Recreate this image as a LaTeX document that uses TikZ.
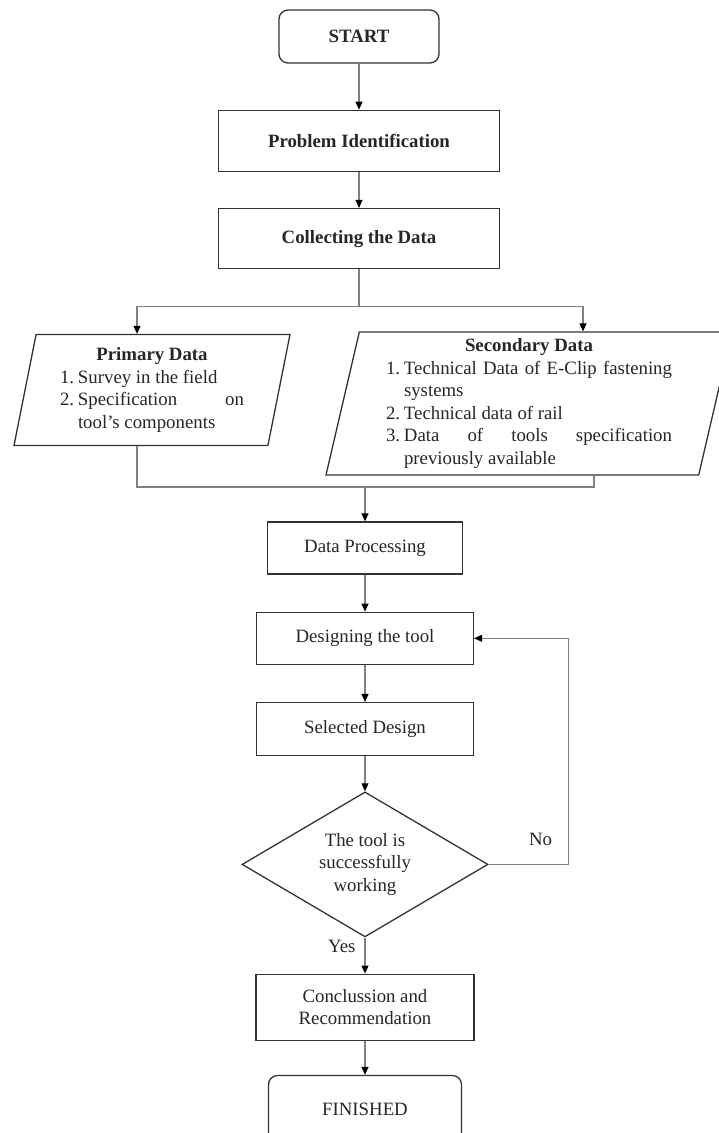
\documentclass[tikz,border=0pt]{standalone}
\usepackage{fontspec}
\setmainfont{Liberation Serif}
\usetikzlibrary{arrows.meta, positioning, calc, shapes.geometric}

\newcommand{\numitem}[2]{\par\noindent\hangindent=18pt\hangafter=1\makebox[18pt][l]{#1}#2\par}

\begin{document}
\begin{tikzpicture}[x=1pt, y=-1pt, node distance=0pt,
  font=\fontsize{18.8pt}{22.5pt}\selectfont, text=black!85,
  box/.style={draw=black!80, line width=1.3pt, fill=white, align=center, inner sep=2pt},
  proc/.style={box, minimum width=217pt, minimum height=52pt},
  term/.style={box, rounded corners=9pt, minimum width=160pt, minimum height=53pt},
  para/.style={box, trapezium, trapezium left angle=76, trapezium right angle=104,
               trapezium stretches body, align=justify,
               execute at begin node={\hyphenpenalty=10000\exhyphenpenalty=10000}},
  dec/.style={box, diamond, aspect=1.7, minimum width=246pt, minimum height=145pt, inner sep=0pt},
  ln/.style={draw=black!50, line width=1.1pt},
  a/.style={ln, -{Triangle[length=8pt, width=7pt, color=black]}},
  lb/.style={inner sep=1pt}]
  \useasboundingbox (0,0) rectangle (719,1133);

  \node[term] (start) at (359,36.5) {\textbf{START}};
  \node[proc, minimum width=281pt, minimum height=61pt, below=46pt of start] (prob)
        {\textbf{Problem Identification}};
  \node[proc, minimum width=281pt, minimum height=60pt, below=36pt of prob] (coll)
        {\textbf{Collecting the Data}};

  \node[para, text width=184pt, minimum width=276pt, minimum height=111pt] (prim) at (152,390)
        {\centerline{\textbf{Primary Data}}%
         \numitem{1.}{Survey in the field}%
         \numitem{2.}{Specification on\linebreak tool's components}};
  \node[para, text width=286pt, minimum width=406pt, minimum height=143pt] (sec) at (529,403.5)
        {\centerline{\textbf{Secondary Data}}%
         \numitem{1.}{Technical Data of E-Clip fastening\linebreak systems}%
         \numitem{2.}{Technical data of rail}%
         \numitem{3.}{Data of tools specification\linebreak previously available}};

  \coordinate (split) at ($(coll.south)+(0,37)$);
  \coordinate (merge) at (365,487);

  \node[proc, minimum width=195pt] (data) at (365,548) {Data Processing};
  \node[proc, below=37pt of data] (design) {Designing the tool};
  \node[proc, minimum height=53pt, below=37pt of design] (sel) {Selected Design};
  \node[dec, below=35pt of sel] (check) {The tool is\\successfully\\working};
  \node[proc, minimum width=218pt, minimum height=66pt, below=36pt of check] (concl)
        {Conclussion and\\Recommendation};
  \node[term, minimum width=193pt, minimum height=68pt, below=34pt of concl] (fin) {FINISHED};

  \draw[a] (start) -- (prob);
  \draw[a] (prob) -- (coll);
  \draw[ln] (coll) -- (split);
  \draw[a] (split) -| ($(prim.north)+(-15,0)$);
  \draw[a] (split) -| ($(sec.north)+(54,0)$);
  \draw[ln] ($(prim.south)+(-15,0)$) |- (merge) -| ($(sec.south)+(65,0)$);
  \draw[a] (merge) -- (data);
  \draw[a] (data) -- (design);
  \draw[a] (design) -- (sel);
  \draw[a] (sel) -- (check);
  \draw[a] (check) -- node[lb, pos=0.25, left=8pt] {Yes} (concl);
  \draw[a] (check.east) -- node[lb, pos=0.65, above=17pt] {No} ++(80,0) |- (design.east);
  \draw[a] (concl) -- (fin);
\end{tikzpicture}
\end{document}
